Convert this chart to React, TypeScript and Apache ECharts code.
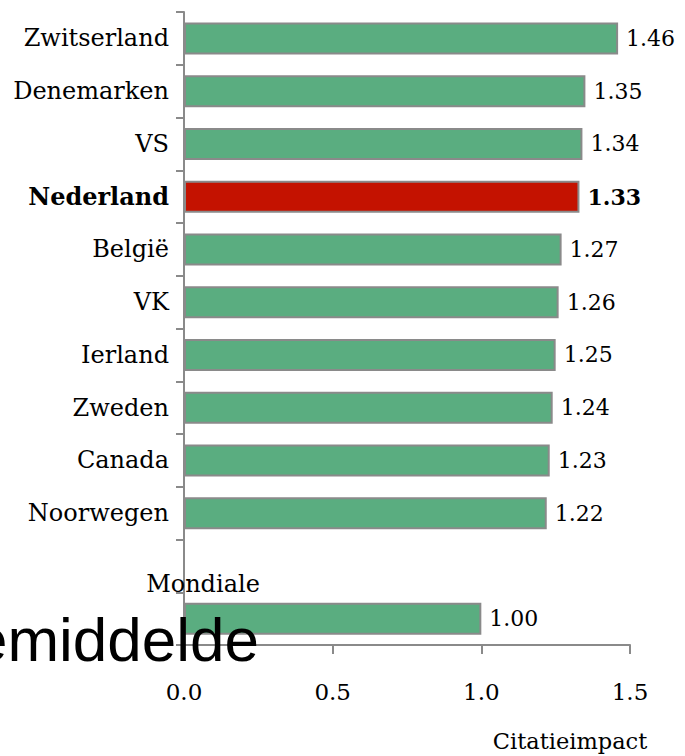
import React, { useEffect, useRef } from "react";
import * as echarts from "echarts";

const categories = [
  "Zwitserland",
  "Denemarken",
  "VS",
  "Nederland",
  "België",
  "VK",
  "Ierland",
  "Zweden",
  "Canada",
  "Noorwegen",
  "",
  "Mondiale gemiddelde",
];
const values: (number | null)[] = [1.46, 1.35, 1.34, 1.33, 1.27, 1.26, 1.25, 1.24, 1.23, 1.22, null, 1.0];
const highlight = "Nederland";
const xTicks = [0, 0.5, 1.0, 1.5];
const xAxisName = "Citatieimpact";

const SERIF = "'DejaVu Serif', serif";
const GREEN = "#5aad80";
const RED = "#c41200";
const GREY = "#8a8a8a";

export default function App() {
  const ref = useRef<HTMLDivElement>(null);
  useEffect(() => {
    if (!ref.current) return;
    const chart = echarts.init(ref.current, undefined, { renderer: "svg" });
    const data = values.map((v, i) => {
      if (v === null) return "-";
      const hi = categories[i] === highlight;
      return {
        value: v,
        itemStyle: { color: hi ? RED : GREEN },
        label: { fontWeight: hi ? "bold" : "normal" },
      };
    });
    chart.setOption({
      animation: false,
      grid: { left: 184, right: 55, top: 12, bottom: 111, containLabel: false },
      xAxis: {
        type: "value",
        min: xTicks[0],
        max: xTicks[xTicks.length - 1],
        interval: 0.5,
        axisLine: { show: true, lineStyle: { color: GREY, width: 2 } },
        axisTick: { show: true, length: 9, lineStyle: { color: GREY, width: 2 } },
        splitLine: { show: false },
        axisLabel: {
          margin: 35,
          fontFamily: SERIF,
          fontSize: 23,
          color: "#000",
          formatter: (v: number) => v.toFixed(1),
        },
      },
      yAxis: {
        type: "category",
        data: categories,
        inverse: true,
        axisLine: { show: true, lineStyle: { color: GREY, width: 2 } },
        axisTick: { show: true, length: 8, lineStyle: { color: GREY, width: 2 } },
        axisLabel: {
          margin: 15,
          fontFamily: SERIF,
          fontSize: 24,
          color: "#000",
          formatter: (v: string) => {
            if (v === "Mondiale gemiddelde") return "";
            if (v === highlight) return "{b|" + v + "}";
            return v;
          },
          rich: { b: { fontFamily: SERIF, fontSize: 24, fontWeight: "bold", color: "#000" } },
        },
      },
      series: [
        {
          type: "bar",
          data,
          barWidth: 32,
          itemStyle: { borderColor: GREY, borderWidth: 2 },
          label: {
            show: true,
            position: "right",
            distance: 8,
            fontFamily: SERIF,
            fontSize: 22,
            color: "#000",
            formatter: (p: any) => Number(p.value).toFixed(2),
          },
        },
      ],
      graphic: [
        {
          type: "text",
          x: 203,
          y: 584,
          z: 100,
          style: { text: "Mondiale", fontFamily: SERIF, fontSize: 24, fill: "#000", align: "center", verticalAlign: "middle" },
        },
        {
          type: "text",
          x: 259,
          y: 639,
          z: 100,
          style: { text: "gemiddelde", fontFamily: "'Liberation Sans', Arial, sans-serif", fontSize: 62, fill: "#000", align: "right", verticalAlign: "middle" },
        },
        {
          type: "text",
          x: 570,
          y: 741,
          z: 100,
          style: { text: xAxisName, fontFamily: SERIF, fontSize: 22.5, fill: "#000", align: "center", verticalAlign: "middle" },
        },
      ],
    });
    return () => chart.dispose();
  }, []);
  return <div ref={ref} style={{ position: "absolute", left: 0, top: 0, width: 685, height: 756 }} />;
}
